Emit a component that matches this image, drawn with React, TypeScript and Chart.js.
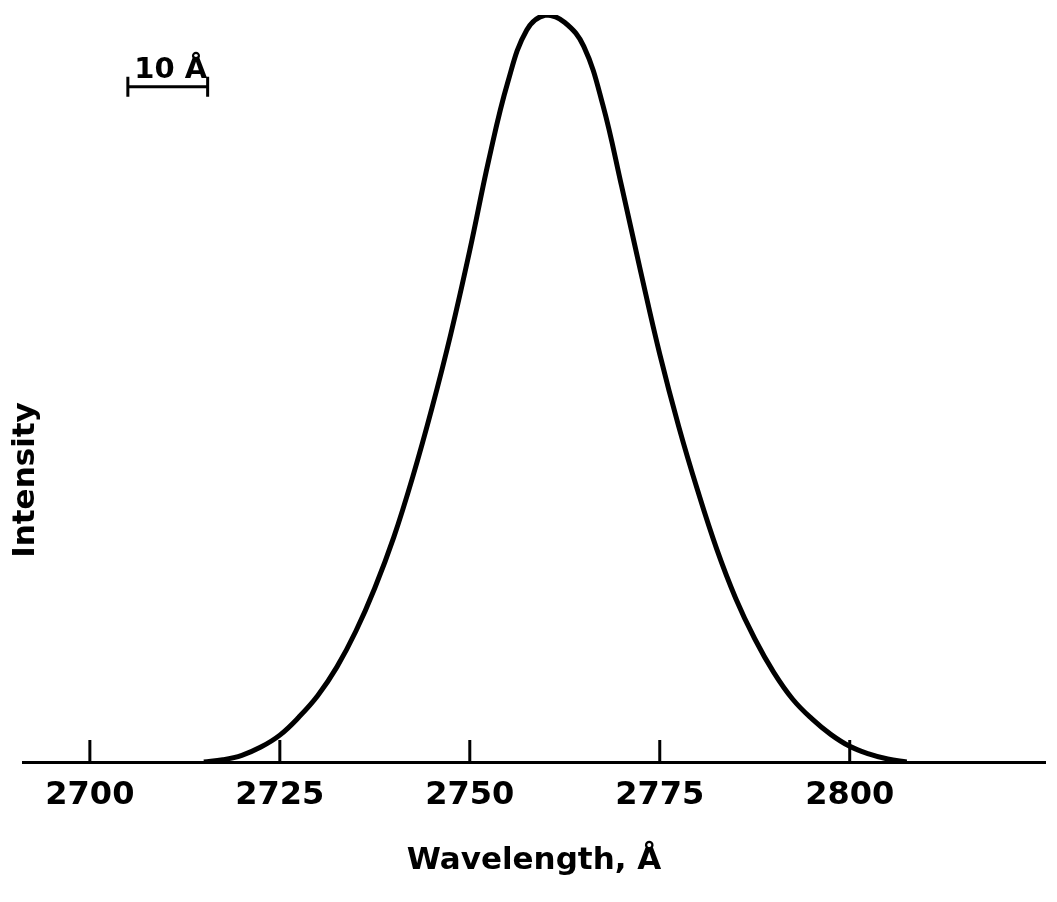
import React, { useEffect, useRef } from "react";
import { Chart, registerables } from "chart.js";

Chart.register(...registerables);

// Spectrum (every 2.5 Å)
const wavelengths = [
  2715, 2717.5, 2720, 2722.5, 2725, 2727.5, 2730, 2732.5, 2735, 2737.5,
  2740, 2742.5, 2745, 2747.5, 2750, 2752.5, 2755, 2757.5, 2760, 2762.5,
  2765, 2767.5, 2770, 2772.5, 2775, 2777.5, 2780, 2782.5, 2785, 2787.5,
  2790, 2792.5, 2795, 2797.5, 2800, 2802.5, 2805, 2807.5,
];
const intensities = [
  0, 0.3, 0.9, 2.0, 3.6, 6.0, 8.9, 12.7, 17.5, 23.3,
  30.1, 38.2, 47.3, 57.3, 68.5, 80.6, 91.0, 98.0, 100, 99.0,
  95.8, 88.0, 77.0, 65.6, 54.6, 44.9, 36.3, 28.5, 21.9, 16.5,
  12.0, 8.4, 5.8, 3.7, 2.1, 1.1, 0.4, 0,
];
const xTicks = [2700, 2725, 2750, 2775, 2800];
const xMin = 2691.2;
const xMax = 2825.7;
const xTitle = "Wavelength, Å";
const yTitle = "Intensity";
const scaleBarLabel = "10 Å";
const scaleBarFrom = 2705;
const scaleBarTo = 2715.5;
const scaleBarLevel = 90.4;

const FONT = "'DejaVu Sans', sans-serif";

const decorations = {
  id: "decorations",
  afterDraw(chart: any) {
    const ctx = chart.ctx;
    const xs = chart.scales.x;
    const ys = chart.scales.y;
    ctx.save();
    ctx.strokeStyle = "#000";
    ctx.fillStyle = "#000";
    ctx.lineWidth = 3;
    // upward tick marks
    const base = ys.getPixelForValue(0);
    xTicks.forEach((v) => {
      const px = xs.getPixelForValue(v);
      ctx.beginPath();
      ctx.moveTo(px, base);
      ctx.lineTo(px, base - 22);
      ctx.stroke();
    });
    // scale bar
    const x1 = xs.getPixelForValue(scaleBarFrom);
    const x2 = xs.getPixelForValue(scaleBarTo);
    const yb = ys.getPixelForValue(scaleBarLevel);
    ctx.beginPath();
    ctx.moveTo(x1, yb);
    ctx.lineTo(x2, yb);
    ctx.moveTo(x1, yb - 10);
    ctx.lineTo(x1, yb + 10);
    ctx.moveTo(x2, yb - 10);
    ctx.lineTo(x2, yb + 10);
    ctx.stroke();
    ctx.font = "bold 29px " + FONT;
    ctx.textAlign = "center";
    ctx.textBaseline = "alphabetic";
    ctx.fillText(scaleBarLabel, (x1 + x2) / 2 + 3, yb - 9);
    // y axis title
    ctx.translate(26, 480);
    ctx.rotate(-Math.PI / 2);
    ctx.font = "bold 31px " + FONT;
    ctx.textAlign = "center";
    ctx.textBaseline = "middle";
    ctx.fillText(yTitle, 0, 0);
    ctx.restore();
  },
};

export default function App() {
  const ref = useRef<HTMLCanvasElement | null>(null);
  useEffect(() => {
    if (!ref.current) return;
    const chart = new Chart(ref.current, {
      type: "line",
      data: {
        datasets: [
          {
            data: wavelengths.map((w, i) => ({ x: w, y: intensities[i] })),
            borderColor: "#000",
            borderWidth: 5,
            pointRadius: 0,
            tension: 0.4,
            fill: false,
          },
        ],
      },
      options: {
        animation: false,
        responsive: false,
        devicePixelRatio: 1,
        layout: { padding: { left: 23, right: 12, top: 15, bottom: 0 } },
        plugins: { legend: { display: false }, tooltip: { enabled: false } },
        scales: {
          x: {
            type: "linear",
            min: xMin,
            max: xMax,
            afterBuildTicks: (s: any) => {
              s.ticks = xTicks.map((v) => ({ value: v }));
            },
            afterFit: (s: any) => {
              s.height = 140;
            },
            grid: { display: false, drawTicks: false },
            border: { display: true, color: "#000", width: 3 },
            ticks: {
              color: "#000",
              font: { family: FONT, size: 32, weight: "bold" },
              padding: 14,
              maxRotation: 0,
              autoSkip: false,
              callback: (v: any) => String(v),
            },
            title: {
              display: true,
              text: xTitle,
              color: "#000",
              font: { family: FONT, size: 31, weight: "bold" },
              padding: { top: 0, bottom: 22 },
            },
          },
          y: {
            display: false,
            min: 0,
            max: 100,
          },
        },
      },
      plugins: [decorations],
    } as any);
    return () => chart.destroy();
  }, []);
  return (
    <canvas
      ref={ref}
      width={1057}
      height={902}
      style={{ position: "fixed", left: 0, top: 0, display: "block", background: "#fff" }}
    />
  );
}
